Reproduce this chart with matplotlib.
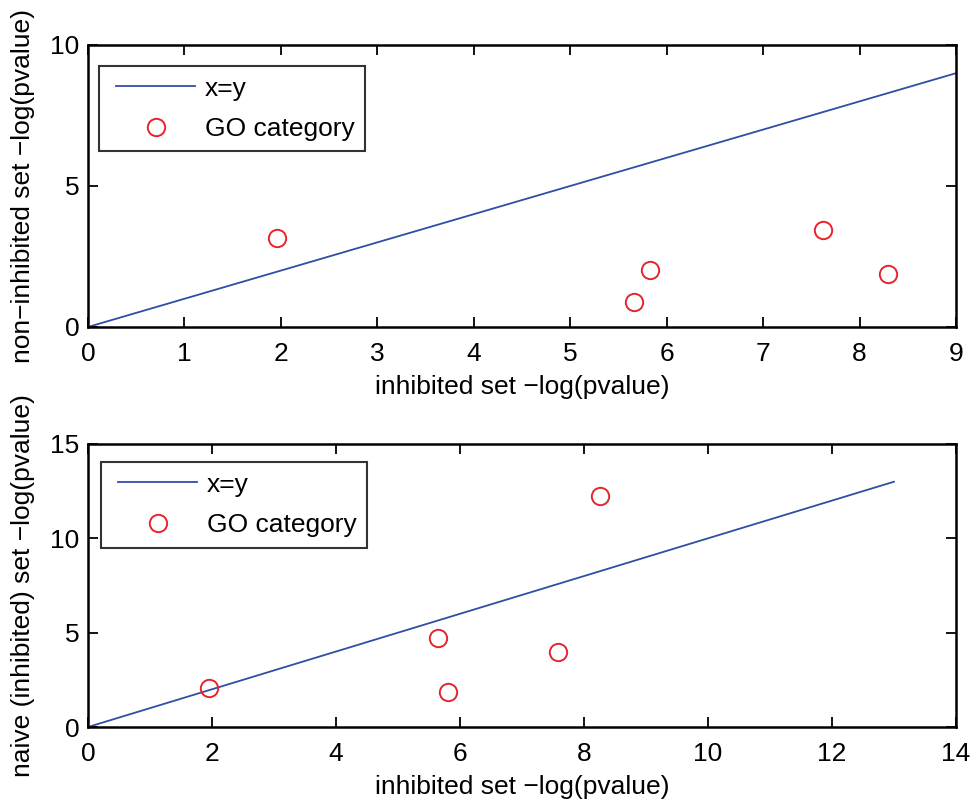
import matplotlib
matplotlib.use("Agg")
import matplotlib.pyplot as plt
from matplotlib.legend_handler import HandlerLine2D
import numpy as np

plt.rcParams['font.family'] = ['Liberation Sans', 'DejaVu Sans']

# Top panel data
top_x = [1.96, 5.66, 5.83, 7.62, 8.30]
top_y = [3.16, 0.89, 2.02, 3.44, 1.88]
top_line = [0, 1, 2, 3, 4, 5, 6, 7, 8, 9]

# Bottom panel data
bot_x = [1.95, 5.65, 5.81, 7.58, 8.26]
bot_y = [2.07, 4.72, 1.85, 3.97, 12.24]
bot_line = [0, 1, 2, 3, 4, 5, 6, 7, 8, 9, 10, 11, 12, 13]

top_xticks = list(range(0, 10))
top_yticks = [0, 5, 10]
bot_xticks = list(range(0, 15, 2))
bot_yticks = [0, 5, 10, 15]

line_color = '#2f4ea5'
pt_color = '#e8232b'
FS = 19

fig = plt.figure(figsize=(9.72, 8.02), dpi=100)
ax1 = fig.add_axes([0.0905, 0.5923, 0.893, 0.3516])
ax2 = fig.add_axes([0.0905, 0.0935, 0.893, 0.3529])

def style(ax, xt, yt, xl, yl, xlabel, ylabel):
    ax.set_xlim(*xl)
    ax.set_ylim(*yl)
    ax.set_xticks(xt)
    ax.set_yticks(yt)
    ax.tick_params(direction='in', top=True, right=True, length=7, width=1.3,
                   labelsize=FS)
    ax.tick_params(axis='x', pad=11)
    ax.tick_params(axis='y', pad=6)
    for s in ax.spines.values():
        s.set_linewidth(1.8)
    ax.set_xlabel(xlabel, fontsize=FS, labelpad=6)
    ax.set_ylabel(ylabel, fontsize=FS, labelpad=11)

def legend(ax, anchor):
    hm = {h: HandlerLine2D(xpad=0.25) for h in ax.get_lines()}
    leg = ax.legend(loc='upper left', fontsize=FS, frameon=True, fancybox=False,
                    edgecolor='black', borderpad=0.4, handlelength=3.24,
                    handletextpad=0.38, borderaxespad=0.0,
                    bbox_to_anchor=anchor, labelspacing=0.62, handler_map=hm)
    leg.get_frame().set_linewidth(1.5)
    return leg

ax1.plot(top_line, top_line, color=line_color, lw=1.3, label='x=y')
ax1.plot(top_x, top_y, 'o', ms=12.5, mfc='none', mec=pt_color, mew=1.4, label='GO category')
style(ax1, top_xticks, top_yticks, (0, 9), (0, 10),
      'inhibited set \u2212log(pvalue)', 'non\u2212inhibited set \u2212log(pvalue)')
legend(ax1, (0.0127, 0.9255))

ax2.plot(bot_line, bot_line, color=line_color, lw=1.3, label='x=y')
ax2.plot(bot_x, bot_y, 'o', ms=12.5, mfc='none', mec=pt_color, mew=1.4, label='GO category')
style(ax2, bot_xticks, bot_yticks, (0, 14), (0, 15),
      'inhibited set \u2212log(pvalue)', 'naive (inhibited) set \u2212log(pvalue)')
legend(ax2, (0.015, 0.936))

fig.savefig('out.png', dpi=100)
